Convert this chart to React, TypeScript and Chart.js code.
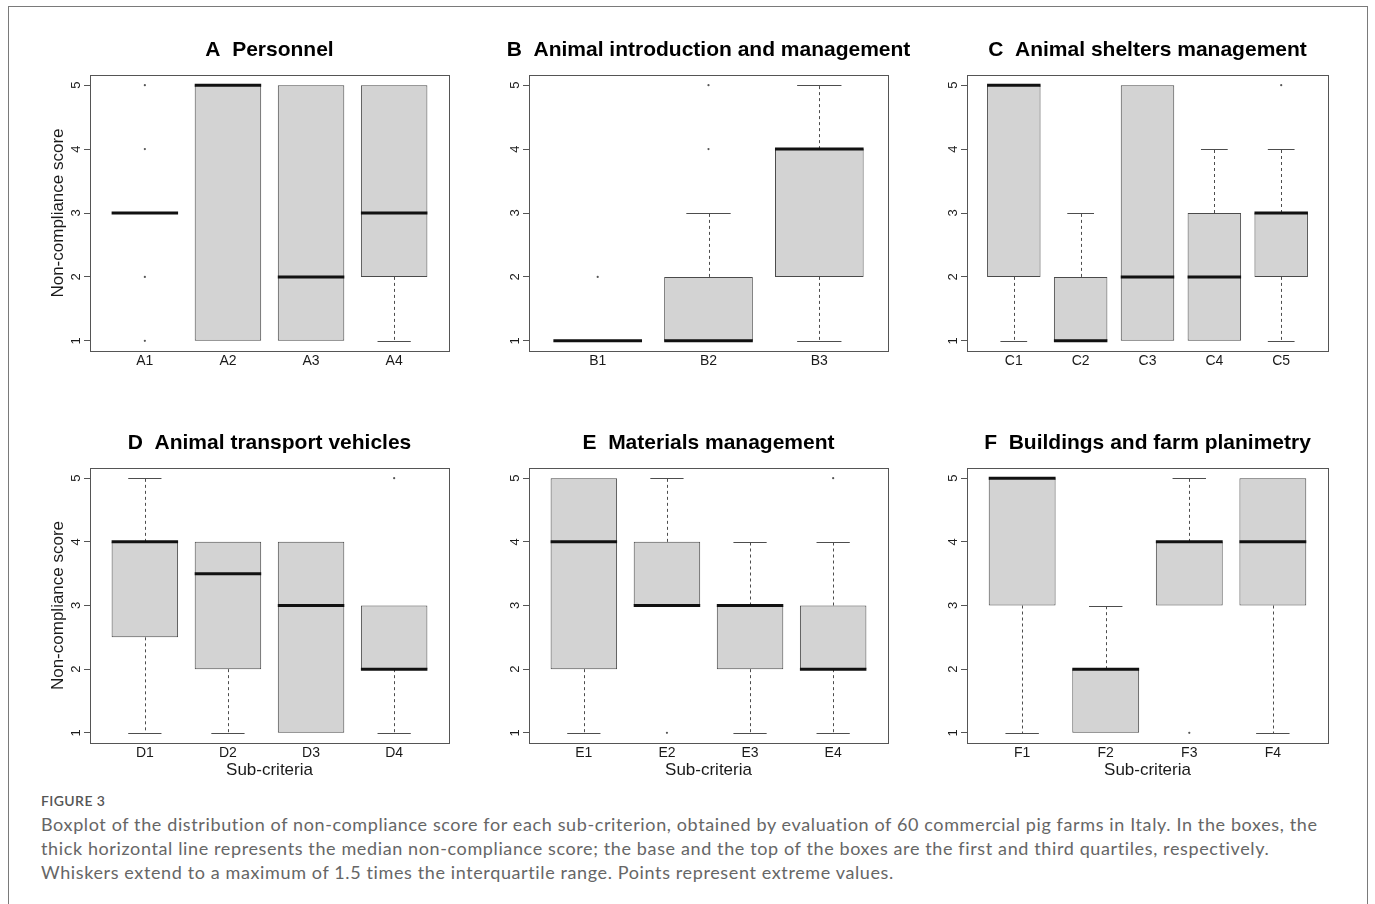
import React, { useEffect, useRef } from "react";
import { Chart, registerables } from "chart.js";

Chart.register(...registerables);

// ---------------- data ----------------
const yTicks = [1, 2, 3, 4, 5];

const titleA = "A  Personnel";
const catsA = ["A1", "A2", "A3", "A4"];
const lowA = [3, 1, 1, 1];
const q1A = [3, 1, 1, 2];
const medA = [3, 5, 2, 3];
const q3A = [3, 5, 5, 5];
const highA = [3, 5, 5, 5];
const outA = [[1, 2, 4, 5], [], [], []];

const titleB = "B  Animal introduction and management";
const catsB = ["B1", "B2", "B3"];
const lowB = [1, 1, 1];
const q1B = [1, 1, 2];
const medB = [1, 1, 4];
const q3B = [1, 2, 4];
const highB = [1, 3, 5];
const outB = [[2], [4, 5], []];

const titleC = "C  Animal shelters management";
const catsC = ["C1", "C2", "C3", "C4", "C5"];
const lowC = [1, 1, 1, 1, 1];
const q1C = [2, 1, 1, 1, 2];
const medC = [5, 1, 2, 2, 3];
const q3C = [5, 2, 5, 3, 3];
const highC = [5, 3, 5, 4, 4];
const outC = [[], [], [], [], [5]];

const titleD = "D  Animal transport vehicles";
const catsD = ["D1", "D2", "D3", "D4"];
const lowD = [1, 1, 1, 1];
const q1D = [2.5, 2, 1, 2];
const medD = [4, 3.5, 3, 2];
const q3D = [4, 4, 4, 3];
const highD = [5, 4, 4, 3];
const outD = [[], [], [], [5]];

const titleE = "E  Materials management";
const catsE = ["E1", "E2", "E3", "E4"];
const lowE = [1, 3, 1, 1];
const q1E = [2, 3, 2, 2];
const medE = [4, 3, 3, 2];
const q3E = [5, 4, 3, 3];
const highE = [5, 5, 4, 4];
const outE = [[], [1], [], [5]];

const titleF = "F  Buildings and farm planimetry";
const catsF = ["F1", "F2", "F3", "F4"];
const lowF = [1, 1, 3, 1];
const q1F = [3, 1, 3, 3];
const medF = [5, 2, 4, 4];
const q3F = [5, 2, 4, 5];
const highF = [5, 3, 5, 5];
const outF = [[], [], [1], []];

const yAxisLabel = "Non-compliance score";
const xAxisLabel = "Sub-criteria";

const figureLabel = "FIGURE 3";
const captionLines = [
  "Boxplot of the distribution of non-compliance score for each sub-criterion, obtained by evaluation of 60 commercial pig farms in Italy. In the boxes, the",
  "thick horizontal line represents the median non-compliance score; the base and the top of the boxes are the first and third quartiles, respectively.",
  "Whiskers extend to a maximum of 1.5 times the interquartile range. Points represent extreme values.",
];

// ---------------- layout ----------------
const FONT = "'Liberation Sans', Arial, Helvetica, sans-serif";
const AX_W = 60; // y-axis box width (left of plot)
const AX_H = 45; // x-axis box height (below plot)
const PAD_T = 55;
const PAD_R = 36;

type Panel = {
  title: string;
  cats: string[];
  low: number[];
  q1: number[];
  med: number[];
  q3: number[];
  high: number[];
  out: number[][];
  left: number;
  top: number;
  w: number;
  h: number;
  yTitle: boolean;
  xTitle: boolean;
};

const panels: Panel[] = [
  { title: titleA, cats: catsA, low: lowA, q1: q1A, med: medA, q3: q3A, high: highA, out: outA, left: 90, top: 75, w: 359, h: 276, yTitle: true, xTitle: false },
  { title: titleB, cats: catsB, low: lowB, q1: q1B, med: medB, q3: q3B, high: highB, out: outB, left: 529, top: 75, w: 359, h: 276, yTitle: false, xTitle: false },
  { title: titleC, cats: catsC, low: lowC, q1: q1C, med: medC, q3: q3C, high: highC, out: outC, left: 967, top: 75, w: 361, h: 276, yTitle: false, xTitle: false },
  { title: titleD, cats: catsD, low: lowD, q1: q1D, med: medD, q3: q3D, high: highD, out: outD, left: 90, top: 468, w: 359, h: 275, yTitle: true, xTitle: true },
  { title: titleE, cats: catsE, low: lowE, q1: q1E, med: medE, q3: q3E, high: highE, out: outE, left: 529, top: 468, w: 359, h: 275, yTitle: false, xTitle: true },
  { title: titleF, cats: catsF, low: lowF, q1: q1F, med: medF, q3: q3F, high: highF, out: outF, left: 967, top: 468, w: 361, h: 275, yTitle: false, xTitle: true },
];

function makePlugin(p: Panel) {
  return {
    id: "boxExtras",
    beforeDatasetsDraw(chart: any) {
      const xs = chart.scales.x;
      const ys = chart.scales.y;
      const ctx = chart.ctx;
      ctx.save();
      ctx.strokeStyle = "#4d4d4d";
      ctx.lineWidth = 1;
      p.cats.forEach((_, i) => {
        const cx = Math.round(xs.getPixelForValue(i + 1)) + 0.5;
        const capL = xs.getPixelForValue(i + 1 - 0.2);
        const capR = xs.getPixelForValue(i + 1 + 0.2);
        const seg = (from: number, to: number) => {
          if (from === to) return;
          const y0 = ys.getPixelForValue(from);
          const y1 = Math.round(ys.getPixelForValue(to)) + 0.5;
          ctx.setLineDash([3, 3]);
          ctx.beginPath();
          ctx.moveTo(cx, y0);
          ctx.lineTo(cx, y1);
          ctx.stroke();
          ctx.setLineDash([]);
          ctx.beginPath();
          ctx.moveTo(capL, y1);
          ctx.lineTo(capR, y1);
          ctx.stroke();
        };
        seg(p.q3[i], p.high[i]);
        seg(p.q1[i], p.low[i]);
      });
      ctx.restore();
    },
    afterDatasetsDraw(chart: any) {
      const xs = chart.scales.x;
      const ys = chart.scales.y;
      const ctx = chart.ctx;
      const a = chart.chartArea;
      ctx.save();
      // medians
      ctx.strokeStyle = "#111";
      ctx.lineWidth = 3;
      ctx.lineCap = "butt";
      p.cats.forEach((_, i) => {
        const y = ys.getPixelForValue(p.med[i]);
        ctx.beginPath();
        ctx.moveTo(xs.getPixelForValue(i + 1 - 0.4), y);
        ctx.lineTo(xs.getPixelForValue(i + 1 + 0.4), y);
        ctx.stroke();
      });
      // frame
      ctx.strokeStyle = "#555";
      ctx.lineWidth = 1;
      ctx.strokeRect(Math.round(a.left) + 0.5, Math.round(a.top) + 0.5, Math.round(a.right - a.left), Math.round(a.bottom - a.top));
      // title
      ctx.fillStyle = "#000";
      ctx.font = `bold 21px ${FONT}`;
      ctx.textAlign = "center";
      ctx.textBaseline = "middle";
      ctx.fillText(p.title, (a.left + a.right) / 2, a.top - 25);
      ctx.restore();
    },
  };
}

function BoxPanel({ p }: { p: Panel }) {
  const ref = useRef<HTMLCanvasElement | null>(null);
  const cw = AX_W + p.w + PAD_R;
  const ch = PAD_T + p.h + AX_H;
  useEffect(() => {
    if (!ref.current) return;
    const n = p.cats.length;
    const boxes = p.cats.map((_, i) => ({ x: i + 1, y: [p.q1[i], p.q3[i]] }));
    const outliers: { x: number; y: number }[] = [];
    p.out.forEach((vals, i) => vals.forEach((v) => outliers.push({ x: i + 1, y: v })));
    const chart = new Chart(ref.current, {
      type: "bar",
      data: {
        datasets: [
          {
            type: "bar",
            data: boxes as any,
            backgroundColor: "#d3d3d3",
            borderColor: "#4a4a4a",
            borderWidth: 1,
            borderSkipped: false,
            barPercentage: 0.8,
            categoryPercentage: 1,
          } as any,
          {
            type: "scatter",
            data: outliers as any,
            pointRadius: 1.1,
            pointBackgroundColor: "#555",
            pointBorderWidth: 0,
          } as any,
        ],
      },
      options: {
        responsive: false,
        animation: false,
        devicePixelRatio: 1,
        layout: { padding: { top: PAD_T, right: PAD_R, left: 0, bottom: 0 } },
        plugins: { legend: { display: false }, tooltip: { enabled: false } },
        scales: {
          x: {
            type: "linear",
            offset: false,
            min: 0.5 - 0.04 * n,
            max: n + 0.5 + 0.04 * n,
            afterBuildTicks: (s: any) => {
              s.ticks = p.cats.map((_, i) => ({ value: i + 1 }));
            },
            afterFit: (s: any) => {
              s.height = AX_H;
            },
            ticks: {
              autoSkip: false,
              maxRotation: 0,
              padding: 2,
              color: "#1a1a1a",
              font: { family: FONT, size: 14 },
              callback: (v: any) => p.cats[Math.round(Number(v)) - 1] ?? "",
            },
            grid: { display: false, drawTicks: false, offset: false },
            border: { display: false },
            title: {
              display: p.xTitle,
              text: xAxisLabel,
              color: "#1a1a1a",
              font: { family: FONT, size: 17 },
              padding: { top: 0, bottom: 7 },
            },
          },
          y: {
            type: "linear",
            min: 0.84,
            max: 5.16,
            afterBuildTicks: (s: any) => {
              s.ticks = yTicks.map((v) => ({ value: v }));
            },
            afterFit: (s: any) => {
              s.width = AX_W;
            },
            ticks: {
              minRotation: 90,
              maxRotation: 90,
              crossAlign: "center",
              padding: 4,
              color: "#1a1a1a",
              font: { family: FONT, size: 13 },
            },
            grid: { drawOnChartArea: false, drawTicks: true, tickLength: 6, color: "#555", lineWidth: 1 },
            border: { display: false },
            title: {
              display: p.yTitle,
              text: yAxisLabel,
              color: "#1a1a1a",
              font: { family: FONT, size: 17 },
              padding: { top: 18, bottom: 0 },
            },
          },
        },
      } as any,
      plugins: [makePlugin(p) as any],
    });
    return () => chart.destroy();
  }, [p]);
  return (
    <canvas
      ref={ref}
      width={cw}
      height={ch}
      style={{ position: "absolute", left: p.left - AX_W, top: p.top - PAD_T, width: cw, height: ch }}
    />
  );
}

export default function App() {
  return (
    <div style={{ position: "absolute", left: 0, top: 0, width: 1375, height: 904, overflow: "hidden", background: "#fff" }}>
      <div
        style={{
          position: "absolute",
          left: 8,
          top: 6,
          width: 1358,
          height: 920,
          borderTop: "1.5px solid #7a7a7a",
          borderLeft: "1.5px solid #7a7a7a",
          borderRight: "1.5px solid #7a7a7a",
        }}
      />
      {panels.map((p) => (
        <BoxPanel key={p.title} p={p} />
      ))}
      <div
        style={{
          position: "absolute",
          left: 41,
          top: 792,
          fontFamily: "Lato, 'Open Sans', sans-serif",
          fontSize: 14,
          fontWeight: 600,
          letterSpacing: 0.4,
          color: "#555",
          lineHeight: "18px",
          whiteSpace: "nowrap",
        }}
      >
        {figureLabel}
      </div>
      {captionLines.map((line, i) => (
        <div
          key={i}
          style={{
            position: "absolute",
            left: 41,
            top: 812 + i * 24,
            fontFamily: "Lato, 'Open Sans', sans-serif",
            fontSize: 18,
            letterSpacing: 0.62,
            color: "#666",
            lineHeight: "24px",
            whiteSpace: "nowrap",
          }}
        >
          {line}
        </div>
      ))}
    </div>
  );
}
